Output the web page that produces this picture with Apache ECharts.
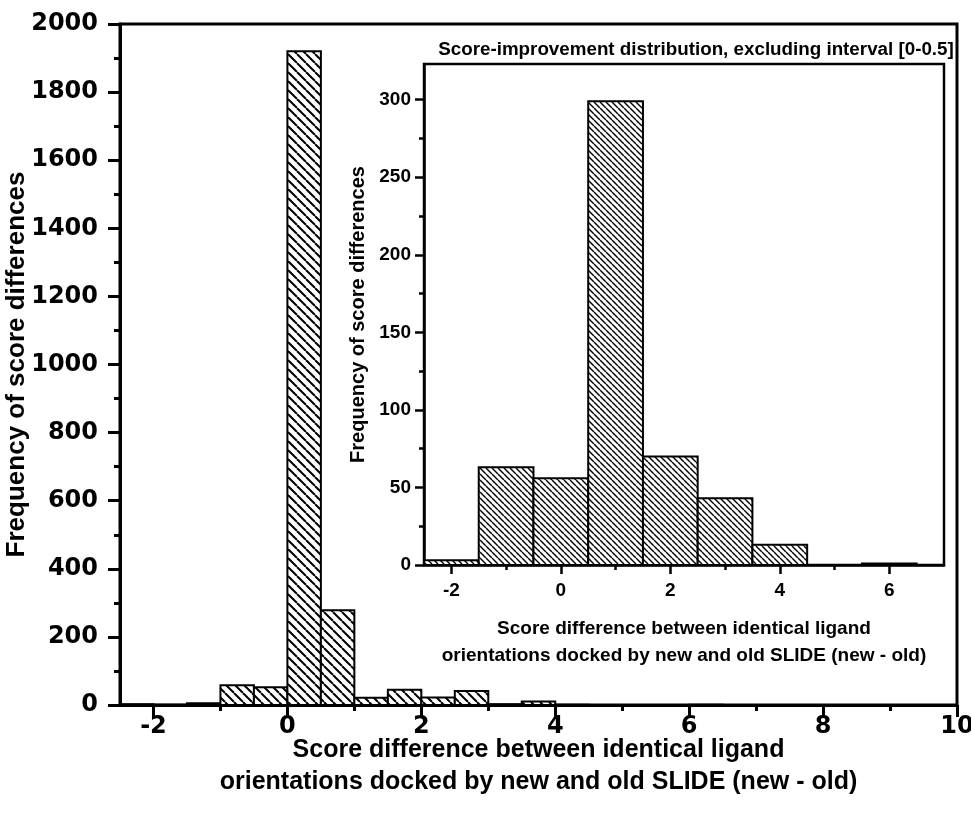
<!DOCTYPE html>
<html>
<head>
<meta charset="utf-8">
<script src="https://cdn.jsdelivr.net/npm/echarts@6/dist/echarts.min.js"></script>
<style>
  html, body { margin: 0; padding: 0; background: #fff; }
  #chart { width: 971px; height: 815px; }
</style>
</head>
<body>
<div id="chart"></div>
<script>
// Full distribution: bins of width 0.5, given by their left edges
const mainBinWidth = 0.5;
const mainBinStarts = [-2.5, -2, -1.5, -1, -0.5, 0, 0.5, 1, 1.5, 2, 2.5, 3, 3.5, 4, 6];
const mainCounts    = [2, 1, 5, 58, 52, 1920, 278, 21, 45, 22, 41, 2, 10, 1, 1];

// Inset distribution without the [0, 0.5] interval: bins of width 1
const insetBinWidth = 1;
const insetBinStarts = [-2.5, -1.5, -0.5, 0.5, 1.5, 2.5, 3.5, 5.5];
const insetCounts    = [3, 63, 56, 299, 70, 43, 13, 1];

// Tick positions
const mainXTicks  = [-2, 0, 2, 4, 6, 8, 10];
const mainXMinor  = [-1, 1, 3, 5, 7, 9];
const insetXTicks = [-2, 0, 2, 4, 6];
const insetXMinor = [-1, 1, 3, 5];
const insetYTicks = [0, 50, 100, 150, 200, 250, 300];
const insetYMinor = [25, 75, 125, 175, 225, 275];

const mainXName  = 'Score difference between identical ligand\norientations docked by new and old SLIDE (new - old)';
const yName      = 'Frequency of score differences';
const insetTitle = 'Score-improvement distribution, excluding interval [0-0.5]';

const TXT = 'Liberation Sans, Arial, sans-serif';
const NUM = 'DejaVu Sans, sans-serif';
const plain = v => String(v);

// Diagonal "\" hatch tile
function hatch(size, lw) {
  const c = document.createElement('canvas');
  c.width = size; c.height = size;
  const g = c.getContext('2d');
  g.fillStyle = '#fff';
  g.fillRect(0, 0, size, size);
  g.strokeStyle = '#000';
  g.lineWidth = lw;
  g.beginPath();
  for (let k = -1; k <= 1; k++) {
    g.moveTo(k * size, 0);
    g.lineTo(k * size + size, size);
  }
  g.stroke();
  return c;
}

function histItem(width, tile, lw) {
  return function (params, api) {
    const x0 = api.value(0);
    const n = api.value(1);
    const p0 = api.coord([x0, n]);
    const p1 = api.coord([x0 + width, 0]);
    return {
      type: 'rect',
      shape: { x: p0[0], y: p0[1], width: p1[0] - p0[0], height: p1[1] - p0[1] },
      style: { fill: { type: 'pattern', image: tile, repeat: 'repeat' }, stroke: '#000', lineWidth: lw }
    };
  };
}

const mainData  = mainBinStarts.map((s, i) => [s, mainCounts[i]]);
const insetData = insetBinStarts.map((s, i) => [s, insetCounts[i]]);

const chart = echarts.init(document.getElementById('chart'), null, { renderer: 'canvas' });

const black = '#000';

chart.setOption({
  animation: false,
  backgroundColor: '#fff',
  title: {
    text: insetTitle,
    left: 691,
    top: 35,
    textAlign: 'center',
    textStyle: { fontFamily: TXT, fontWeight: 'bold', fontSize: 18.8, color: black }
  },
  grid: [
    { left: 120, right: 14, top: 24, bottom: 110, outerBoundsMode: 'none', containLabel: false,
      show: true, borderColor: black, borderWidth: 3, backgroundColor: 'transparent' },
    { left: 424, right: 27, top: 64, bottom: 250, outerBoundsMode: 'none', containLabel: false,
      show: true, borderColor: black, borderWidth: 2.5, backgroundColor: 'transparent' }
  ],
  xAxis: [
    {
      type: 'value', gridIndex: 0, min: -2.5, max: 10, position: 'bottom',
      axisLine: { show: true, onZero: false, lineStyle: { color: black, width: 3 } },
      axisTick: { show: true, customValues: mainXTicks, length: 12, lineStyle: { color: black, width: 3 } },
      axisLabel: { customValues: mainXTicks, formatter: plain, margin: 10, color: black, fontFamily: NUM, fontWeight: 'bold', fontSize: 24 },
      splitLine: { show: false },
      name: mainXName, nameLocation: 'middle', nameGap: 29, nameMoveOverlap: false,
      nameTextStyle: { fontFamily: TXT, fontWeight: 'bold', fontSize: 25, lineHeight: 32, color: black, verticalAlign: 'top' }
    },
    {
      type: 'value', gridIndex: 0, min: -2.5, max: 10, position: 'bottom',
      axisLine: { show: false, onZero: false },
      axisTick: { show: true, customValues: mainXMinor, length: 6, lineStyle: { color: black, width: 3 } },
      axisLabel: { show: false },
      splitLine: { show: false }
    },
    {
      type: 'value', gridIndex: 1, min: -2.5, max: 7, position: 'bottom',
      axisLine: { show: true, onZero: false, lineStyle: { color: black, width: 2.5 } },
      axisTick: { show: true, customValues: insetXTicks, length: 9, lineStyle: { color: black, width: 2.5 } },
      axisLabel: { customValues: insetXTicks, formatter: plain, margin: 16, color: black, fontFamily: TXT, fontWeight: 'bold', fontSize: 19 },
      splitLine: { show: false },
      name: mainXName, nameLocation: 'middle', nameGap: 50, nameMoveOverlap: false,
      nameTextStyle: { fontFamily: TXT, fontWeight: 'bold', fontSize: 19, lineHeight: 27, color: black, verticalAlign: 'top' }
    },
    {
      type: 'value', gridIndex: 1, min: -2.5, max: 7, position: 'bottom',
      axisLine: { show: false, onZero: false },
      axisTick: { show: true, customValues: insetXMinor, length: 5, lineStyle: { color: black, width: 2.5 } },
      axisLabel: { show: false },
      splitLine: { show: false }
    }
  ],
  yAxis: [
    {
      type: 'value', gridIndex: 0, min: 0, max: 2000, interval: 200, position: 'left',
      axisLine: { show: true, onZero: false, lineStyle: { color: black, width: 3 } },
      axisTick: { show: true, length: 12, lineStyle: { color: black, width: 3 } },
      minorTick: { show: true, splitNumber: 2, length: 6, lineStyle: { color: black, width: 3 } },
      axisLabel: { formatter: plain, margin: 22, color: black, fontFamily: NUM, fontWeight: 'bold', fontSize: 24 },
      splitLine: { show: false },
      name: yName, nameLocation: 'middle', nameGap: 90, nameMoveOverlap: false,
      nameTextStyle: { fontFamily: TXT, fontWeight: 'bold', fontSize: 26, color: black }
    },
    {
      type: 'value', gridIndex: 1, min: 0, max: 323, position: 'left',
      axisLine: { show: true, onZero: false, lineStyle: { color: black, width: 2.5 } },
      axisTick: { show: true, customValues: insetYTicks, length: 9, lineStyle: { color: black, width: 2.5 } },
      axisLabel: { customValues: insetYTicks, formatter: plain, margin: 13, color: black, fontFamily: TXT, fontWeight: 'bold', fontSize: 19 },
      splitLine: { show: false },
      name: yName, nameLocation: 'middle', nameGap: 56, nameMoveOverlap: false,
      nameTextStyle: { fontFamily: TXT, fontWeight: 'bold', fontSize: 20, color: black }
    },
    {
      type: 'value', gridIndex: 1, min: 0, max: 323, position: 'left',
      axisLine: { show: false, onZero: false },
      axisTick: { show: true, customValues: insetYMinor, length: 5, lineStyle: { color: black, width: 2.5 } },
      axisLabel: { show: false },
      splitLine: { show: false }
    }
  ],
  series: [
    {
      type: 'custom', name: 'all', xAxisIndex: 0, yAxisIndex: 0,
      renderItem: histItem(mainBinWidth, hatch(9, 2), 2),
      encode: { x: 0, y: 1 },
      data: mainData
    },
    {
      type: 'custom', name: 'inset', xAxisIndex: 2, yAxisIndex: 1,
      renderItem: histItem(insetBinWidth, hatch(6, 1.4), 2),
      encode: { x: 0, y: 1 },
      data: insetData
    }
  ]
});
</script>
</body>
</html>
